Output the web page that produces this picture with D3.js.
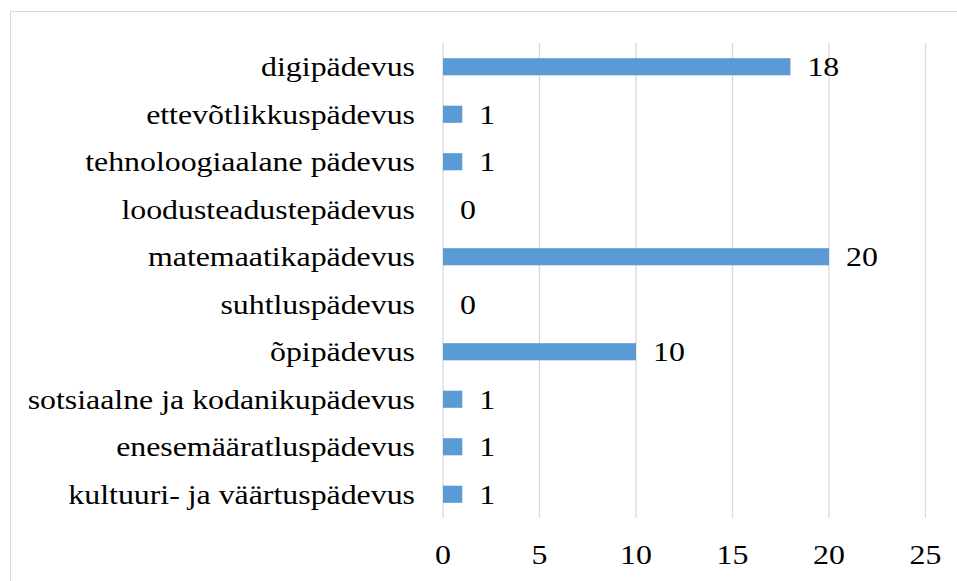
<!DOCTYPE html>
<html>
<head>
<meta charset="utf-8">
<script src="https://cdn.jsdelivr.net/npm/d3@7"></script>
<style>
  body { margin:0; background:#fff; }
</style>
</head>
<body>
<div id="canvas"></div>
<script>
// data, top to bottom as in the chart
var categories = ['digipädevus','ettevõtlikkuspädevus','tehnoloogiaalane pädevus','loodusteadustepädevus',
    'matemaatikapädevus','suhtluspädevus','õpipädevus','sotsiaalne ja kodanikupädevus',
    'enesemääratluspädevus','kultuuri- ja väärtuspädevus'];
var values = [18, 1, 1, 0, 20, 0, 10, 1, 1, 1];
var xTicks = [0, 5, 10, 15, 20, 25];

var W = 957, H = 581;
var font = "'Liberation Serif', 'Times New Roman', serif";
var fs = 27, sx = 1.18; // the source picture is a bit stretched sideways
var m = {t:43, b:518, l:443, r:925.5};

var svg = d3.select('#canvas').append('svg')
    .attr('width', W).attr('height', H);

// chart frame
svg.append('rect')
    .attr('x', 10.5).attr('y', 11.5)
    .attr('width', W).attr('height', H)
    .attr('fill','none').attr('stroke','#d9d9d9');

var x = d3.scaleLinear().domain([0,25]).range([m.l, m.r]);
var y = d3.scaleBand().domain(categories).range([m.t, m.b]).paddingInner(0.64).paddingOuter(0.32);

// gridlines
svg.selectAll('.grid').data(xTicks).enter().append('line')
    .attr('class','grid')
    .attr('x1', function(d){ return x(d); }).attr('x2', function(d){ return x(d); })
    .attr('y1', m.t).attr('y2', m.b)
    .attr('stroke','#d9d9d9').attr('stroke-width',1.3);

// bars
svg.selectAll('.bar').data(values).enter().append('rect')
    .attr('class','bar')
    .attr('x', x(0))
    .attr('y', function(d,i){ return y(categories[i]); })
    .attr('width', function(d){ return x(d) - x(0); })
    .attr('height', y.bandwidth())
    .attr('fill','#5b9bd5');

function label(sel, px, py, anchor) {
    sel.attr('transform', function(d,i){ return 'translate(' + px(d,i) + ',' + py(d,i) + ') scale(' + sx + ',1)'; })
        .attr('text-anchor', anchor)
        .style('font-family', font).style('font-size', fs + 'px')
        .attr('fill', '#000');
}

// value labels
svg.selectAll('.val').data(values).enter().append('text')
    .attr('class','val')
    .call(label, function(d){ return x(d) + 17; },
        function(d,i){ return y(categories[i]) + y.bandwidth()/2 + 9.5; }, 'start')
    .text(function(d){ return d; });

// category labels
svg.selectAll('.cat').data(categories).enter().append('text')
    .attr('class','cat')
    .call(label, function(){ return 415; },
        function(d){ return y(d) + y.bandwidth()/2 + 9.5; }, 'end')
    .text(function(d){ return d; });

// x axis tick labels
var xAxis = d3.axisBottom(x).tickValues(xTicks).tickSize(0).tickPadding(0);
var ax = svg.append('g').attr('transform','translate(0,0)').call(xAxis);
ax.select('.domain').remove();
ax.selectAll('.tick').attr('transform', null);
ax.selectAll('.tick text')
    .attr('y', null).attr('dy', null)
    .call(label, function(d){ return x(d); }, function(){ return 564; }, 'middle');
</script>
</body>
</html>
